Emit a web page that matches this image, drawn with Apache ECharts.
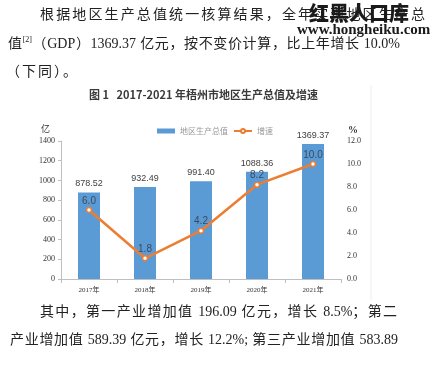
<!DOCTYPE html>
<html><head><meta charset="utf-8">
<script src="https://cdn.jsdelivr.net/npm/echarts@6/dist/echarts.min.js"></script>
<style>
html,body{margin:0;padding:0;background:#fff;}
#wrap{position:relative;width:435px;height:367px;overflow:hidden;background:#fff;}
#chart{position:absolute;left:0;top:0;width:435px;height:367px;}
.p{position:absolute;white-space:nowrap;font-family:"Liberation Serif","Noto Sans CJK SC",serif;font-size:14px;color:#222;line-height:18px;}
.j{text-align:justify;text-align-last:justify;}
.wm1{position:absolute;left:309px;top:1px;font-family:"Noto Sans CJK SC",sans-serif;font-weight:900;font-size:20px;color:#1a1a1a;line-height:24px;}
.wm2{position:absolute;left:297px;top:20px;font-family:"Liberation Serif",serif;font-weight:bold;font-size:15px;color:#1a1a1a;line-height:18px;}
sup{font-size:8px;vertical-align:6px;line-height:0;}
</style></head>
<body><div id="wrap">
<div id="chart"></div>
<div class="p j" style="left:40px;top:6px;width:385px;">根据地区生产总值统一核算结果，全年实现地区生产总</div>
<div class="p j" style="left:8px;top:35px;width:392px;">值<sup>[2]</sup>（GDP）1369.37 亿元，按不变价计算，比上年增长 10.0%</div>
<div class="p" style="left:6px;top:63px;letter-spacing:2px;">（下同）。</div>
<div class="wm1">红黑人口库</div>
<div class="wm2">www.hongheiku.com</div>
<div class="p j" style="left:40px;top:303px;width:357px;">其中，第一产业增加值 196.09 亿元，增长 8.5%；第二</div>
<div class="p j" style="left:10px;top:331px;width:388px;">产业增加值 589.39 亿元，增长 12.2%; 第三产业增加值 583.89</div>
</div>
<script>
const categories = ['2017年','2018年','2019年','2020年','2021年'];
const gdpValues = [878.52, 932.49, 991.40, 1088.36, 1369.37];
const growthValues = [6.0, 1.8, 4.2, 8.2, 10.0];
const leftTicks = {min:0, max:1400, interval:200};
const rightTicks = {min:0, max:12, interval:2};

const chart = echarts.init(document.getElementById('chart'), null, {renderer:'canvas'});
chart.setOption({
  backgroundColor:'transparent',
  animation:false,
  title:{
    text:'图 1   2017-2021 年梧州市地区生产总值及增速',
    left:89, top:89, padding:0,
    textStyle:{fontFamily:'"Noto Sans CJK SC",sans-serif', fontSize:11, fontWeight:'bold', color:'#3a3a3a'}
  },
  legend:{
    left:152, top:122, itemWidth:18, itemHeight:5, itemGap:5,
    textStyle:{fontFamily:'"Noto Sans CJK SC",sans-serif', fontSize:8, color:'#999'},
    data:[{name:'地区生产总值', icon:'rect'}, {name:'增速'}]
  },
  graphic:[
    {type:'text', left:41, top:124, style:{text:'亿', fontFamily:'"Noto Sans CJK SC",serif', fontSize:9, fill:'#333'}},
    {type:'text', left:348, top:125, style:{text:'%', fontFamily:'"Liberation Serif",serif', fontSize:10, fontWeight:'bold', fill:'#333'}},
    {type:'line', shape:{x1:371, y1:85, x2:371, y2:300}, style:{stroke:'#eeeeee', lineWidth:1}}
  ],
  grid:{left:61, right:94, top:141, bottom:88},
  xAxis:{
    type:'category', data:categories,
    axisLine:{lineStyle:{color:'#bfbfbf'}},
    axisTick:{show:true, length:4, lineStyle:{color:'#bfbfbf'}},
    axisLabel:{fontFamily:'"Liberation Serif","Noto Sans CJK SC",serif', fontSize:7, color:'#333', margin:8}
  },
  yAxis:[
    {type:'value', min:leftTicks.min, max:leftTicks.max, interval:leftTicks.interval,
     axisLine:{show:true, lineStyle:{color:'#bfbfbf'}},
     axisTick:{show:true, length:3, lineStyle:{color:'#bfbfbf'}},
     splitLine:{show:false},
     axisLabel:{fontFamily:'"Liberation Serif",serif', fontSize:8, color:'#333', margin:6,
       formatter:v=>String(v)}},
    {type:'value', min:rightTicks.min, max:rightTicks.max, interval:rightTicks.interval,
     axisLine:{show:false}, axisTick:{show:false}, splitLine:{show:false},
     axisLabel:{fontFamily:'"Liberation Serif",serif', fontSize:8, color:'#333', margin:6,
       formatter:v=>v.toFixed(1)}}
  ],
  series:[
    {name:'地区生产总值', type:'bar', data:gdpValues, barWidth:22, yAxisIndex:0,
     itemStyle:{color:'#5B9BD5'},
     label:{show:true, position:'top', distance:4, fontFamily:'"Liberation Sans",sans-serif', fontSize:9, color:'#404040',
       formatter:p=>p.value.toFixed(2)}},
    {name:'增速', type:'line', data:growthValues, yAxisIndex:1, symbol:'circle', symbolSize:5,
     lineStyle:{color:'#ED7D31', width:2.5},
     itemStyle:{color:'#ffffff', borderColor:'#ED7D31', borderWidth:1.5},
     label:{show:true, position:'top', distance:1, fontFamily:'"Liberation Sans",sans-serif', fontSize:10, color:'#3d4a5c',
       formatter:p=>p.value.toFixed(1)},
     z:3}
  ]
});
</script>
</body></html>
